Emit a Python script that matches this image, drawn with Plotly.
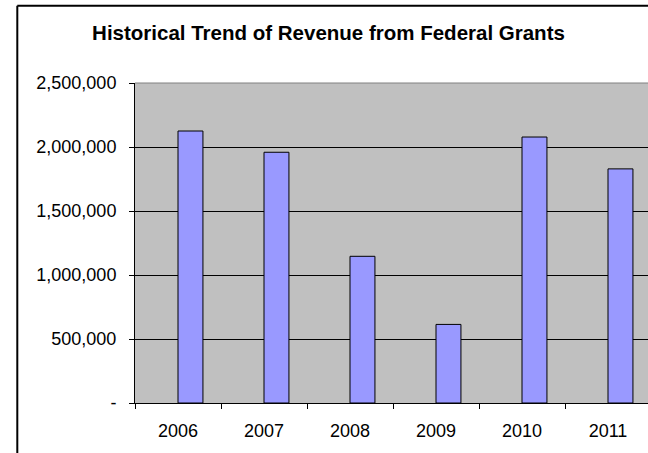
import plotly.graph_objects as go

years = ["2006", "2007", "2008", "2009", "2010", "2011"]
revenue = [2125000, 1959000, 1146000, 614000, 2078000, 1829000]
y_tickvals = [0, 500000, 1000000, 1500000, 2000000, 2500000]
y_ticktext = ["-", "500,000", "1,000,000", "1,500,000", "2,000,000", "2,500,000"]

FONT = "Arial, 'Liberation Sans', sans-serif"
W, H = 648, 453
L, R, T, B = 135, 0, 82.5, 49.5
pw = W - L - R
ph = H - T - B

border_x = (17.3 - L) / pw
border_y = (H - B - 5) / ph

fig = go.Figure()
fig.add_trace(go.Bar(
    x=years, y=revenue,
    offset=0, width=0.29,
    marker=dict(color="#9999FF", line=dict(color="#000000", width=1)),
))

fig.update_layout(
    width=W, height=H,
    margin=dict(l=L, r=R, t=T, b=B, pad=0),
    paper_bgcolor="white",
    plot_bgcolor="#C0C0C0",
    showlegend=False,
    font=dict(family=FONT, size=18, color="black"),
    title=dict(
        text="<b>Historical Trend of Revenue from Federal Grants</b>",
        x=328.5 / W, xanchor="center",
        y=1 - 33 / H, yanchor="middle",
        font=dict(family=FONT, size=20.5, color="black"),
    ),
    xaxis=dict(
        type="category",
        range=[-0.5, 5.5 - 3 / 86],
        showgrid=False,
        showline=True, linecolor="#000000", linewidth=1,
        ticks="outside", tickson="boundaries", ticklen=5, tickcolor="#000000",
        tickfont=dict(family=FONT, size=18, color="black"),
        ticklabelstandoff=11,
        zeroline=False,
    ),
    yaxis=dict(
        range=[0, 2500000],
        tickvals=y_tickvals, ticktext=y_ticktext,
        showgrid=True, gridcolor="#000000", gridwidth=1,
        showline=True, linecolor="#000000", linewidth=1,
        ticks="outside", ticklen=5, tickcolor="#000000",
        tickfont=dict(family=FONT, size=18, color="black"),
        ticklabelstandoff=9,
        zeroline=False,
    ),
    shapes=[
        # chart area border: left edge
        dict(type="line", xref="paper", yref="paper",
             x0=border_x, x1=border_x, y0=-0.5, y1=border_y,
             line=dict(color="#000000", width=2)),
        # chart area border: top edge
        dict(type="line", xref="paper", yref="paper",
             x0=border_x, x1=1.0, y0=border_y, y1=border_y,
             line=dict(color="#000000", width=2)),
        # plot area top border
        dict(type="line", xref="paper", yref="paper",
             x0=0, x1=1, y0=1, y1=1,
             line=dict(color="#808080", width=1)),
    ],
)

fig.write_html(
    "out.html",
    config={"displayModeBar": False},
    post_script="document.body.style.margin='0px';document.body.style.overflow='hidden';",
)
